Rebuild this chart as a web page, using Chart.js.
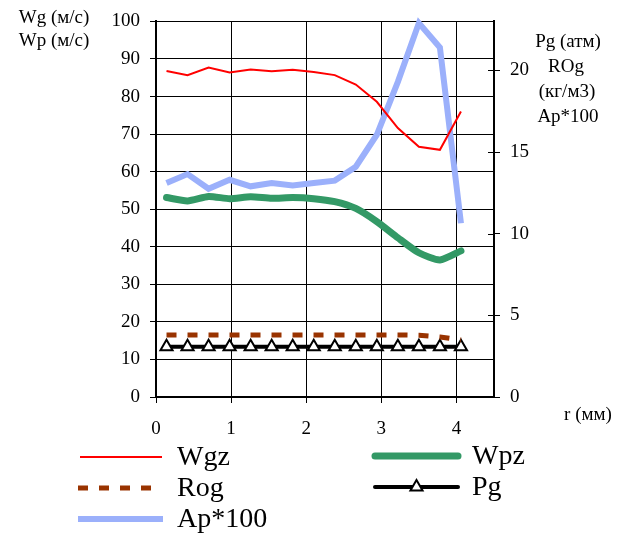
<!DOCTYPE html>
<html lang="ru">
<head>
<meta charset="UTF-8">
<title>Wg, Wp, Pg, ROg, Ap</title>
<script src="https://cdn.jsdelivr.net/npm/chart.js@4.4.1/dist/chart.umd.min.js"></script>
<style>
    html, body { margin: 0; padding: 0; background: #fff; }
    #wrap { width: 628px; height: 539px; }
</style>
</head>
<body>
<div id="wrap"><canvas id="myChart" width="628" height="539"></canvas></div>

<script>
    // radius, mm
    var rMm = [0.14, 0.42, 0.70, 0.98, 1.26, 1.54, 1.82, 2.10, 2.38, 2.66, 2.94, 3.22, 3.50, 3.78, 4.06];

    // left axis (m/s)
    var wgz = [86.8, 85.7, 87.7, 86.4, 87.2, 86.7, 87.1, 86.5, 85.7, 83.2, 78.6, 71.6, 66.6, 65.8, 76.0];
    var wpz = [53.1, 52.2, 53.4, 52.8, 53.3, 52.9, 53.1, 52.8, 52.0, 50.2, 46.7, 42.4, 38.4, 36.5, 38.9];

    // right axis
    var rog = [3.8, 3.8, 3.8, 3.8, 3.8, 3.8, 3.8, 3.8, 3.8, 3.8, 3.8, 3.8, 3.78, 3.68, 3.5];
    var pg = [3.07, 3.07, 3.07, 3.07, 3.07, 3.07, 3.07, 3.07, 3.07, 3.07, 3.07, 3.07, 3.07, 3.07, 3.07];
    var ap100 = [13.1, 13.65, 12.75, 13.3, 12.9, 13.1, 12.95, 13.1, 13.25, 14.1, 16.06, 19.3, 22.9, 21.4, 10.64];

    var xTicks = [0, 1, 2, 3, 4];
    var leftTicks = [0, 10, 20, 30, 40, 50, 60, 70, 80, 90, 100];
    var rightTicks = [0, 5, 10, 15, 20];

    var serif = "'Liberation Serif', 'DejaVu Serif', serif";

    function pts(vals) {
        return vals.map(function (v, i) { return { x: rMm[i], y: v }; });
    }

    function setTicks(list) {
        return function (scale) {
            scale.ticks = list.map(function (v) { return { value: v }; });
        };
    }

    function triangle(ctx, cx, cy, r) {
        ctx.beginPath();
        ctx.moveTo(cx, cy - r);
        ctx.lineTo(cx + r * 0.866, cy + r * 0.5);
        ctx.lineTo(cx - r * 0.866, cy + r * 0.5);
        ctx.closePath();
    }

    // legend + axis titles + inner half of right ticks
    var extras = {
        id: 'extras',
        afterDraw: function (chart) {
            var ctx = chart.ctx;
            var y1 = chart.scales.y1;
            var area = chart.chartArea;

            ctx.save();
            ctx.strokeStyle = '#000';
            ctx.lineWidth = 1;
            rightTicks.forEach(function (v) {
                var py = Math.round(y1.getPixelForValue(v)) + 0.5;
                ctx.beginPath();
                ctx.moveTo(area.right - 6, py);
                ctx.lineTo(area.right, py);
                ctx.stroke();
            });

            ctx.fillStyle = '#000';
            ctx.font = '19px ' + serif;
            ctx.textAlign = 'center';
            ctx.textBaseline = 'middle';
            ctx.fillText('Wg (м/с)', 54, 18);
            ctx.fillText('Wp (м/с)', 54, 41);
            ctx.fillText('Pg (атм)', 568, 42);
            ctx.fillText('ROg', 566, 67);
            ctx.fillText('(кг/м3)', 567, 92);
            ctx.fillText('Ap*100', 568, 117);
            ctx.fillText('r (мм)', 588, 415);

            // legend
            var ds = chart.data.datasets;
            var items = [
                { d: ds[0], x1: 80, x2: 162, tx: 177, y: 457 },
                { d: ds[2], x1: 78, x2: 152, tx: 177, y: 488 },
                { d: ds[4], x1: 78, x2: 163, tx: 177, y: 519 },
                { d: ds[1], x1: 375, x2: 458, tx: 472, y: 456 },
                { d: ds[3], x1: 375, x2: 458, tx: 472, y: 487 }
            ];
            items.forEach(function (it) {
                var d = it.d;
                ctx.save();
                ctx.strokeStyle = d.borderColor;
                ctx.lineWidth = d.borderWidth;
                ctx.lineCap = d.legendCap || 'butt';
                ctx.setLineDash(d.borderDash || []);
                ctx.beginPath();
                ctx.moveTo(it.x1, it.y);
                ctx.lineTo(it.x2, it.y);
                ctx.stroke();
                ctx.restore();
                if (d.pointStyle === 'triangle') {
                    ctx.save();
                    ctx.fillStyle = d.pointBackgroundColor;
                    ctx.strokeStyle = d.pointBorderColor;
                    ctx.lineWidth = d.pointBorderWidth;
                    triangle(ctx, (it.x1 + it.x2) / 2, it.y, d.pointRadius);
                    ctx.fill();
                    ctx.stroke();
                    ctx.restore();
                }
                ctx.fillStyle = '#000';
                ctx.font = '28px ' + serif;
                ctx.textAlign = 'left';
                ctx.textBaseline = 'middle';
                ctx.fillText(d.label, it.tx, it.y + 1);
            });
            ctx.restore();
        }
    };

    var ctx = document.getElementById('myChart').getContext('2d');
    var myChart = new Chart(ctx, {
        type: 'line',
        data: {
            datasets: [
                {
                    label: 'Wgz', data: pts(wgz), yAxisID: 'y',
                    borderColor: '#ff0000', borderWidth: 2, tension: 0,
                    pointRadius: 0
                },
                {
                    label: 'Wpz', data: pts(wpz), yAxisID: 'y',
                    borderColor: '#339966', borderWidth: 7, tension: 0.2,
                    borderCapStyle: 'round', legendCap: 'round', pointRadius: 0
                },
                {
                    label: 'Rog', data: pts(rog), yAxisID: 'y1',
                    borderColor: '#993300', borderWidth: 5, borderDash: [10, 11],
                    pointRadius: 0
                },
                {
                    label: 'Pg', data: pts(pg), yAxisID: 'y1',
                    borderColor: '#000000', borderWidth: 4, legendCap: 'round',
                    pointStyle: 'triangle', pointRadius: 7, pointBorderWidth: 2,
                    pointBackgroundColor: '#ffffff', pointBorderColor: '#000000'
                },
                {
                    label: 'Ap*100', data: pts(ap100), yAxisID: 'y1',
                    borderColor: '#9bb0fb', borderWidth: 6, pointRadius: 0
                }
            ]
        },
        options: {
            responsive: false,
            animation: false,
            clip: false,
            layout: { padding: { left: 0, right: 0, top: 15, bottom: 102 } },
            plugins: {
                legend: { display: false },
                tooltip: { enabled: false }
            },
            scales: {
                x: {
                    type: 'linear', min: 0, max: 4.5,
                    afterBuildTicks: setTicks(xTicks),
                    afterFit: function (s) { s.height = 40; },
                    border: { color: '#000', width: 2 },
                    grid: { color: '#000', lineWidth: 1, tickLength: 6 },
                    ticks: { color: '#000', padding: 15, font: { family: serif, size: 19 } }
                },
                y: {
                    position: 'left', min: 0, max: 100,
                    afterBuildTicks: setTicks(leftTicks),
                    afterFit: function (s) { s.width = 156; },
                    border: { color: '#000', width: 2 },
                    grid: { color: '#000', lineWidth: 1, tickLength: 6 },
                    ticks: { color: '#000', padding: 10, font: { family: serif, size: 19 } }
                },
                y1: {
                    position: 'right', min: 0, max: 23,
                    afterBuildTicks: setTicks(rightTicks),
                    afterFit: function (s) { s.width = 134; },
                    border: { color: '#000', width: 2 },
                    grid: { drawOnChartArea: false, color: '#000', lineWidth: 1, tickLength: 6 },
                    ticks: { color: '#000', padding: 10, font: { family: serif, size: 19 } }
                }
            }
        },
        plugins: [extras]
    });
</script>
</body>
</html>
